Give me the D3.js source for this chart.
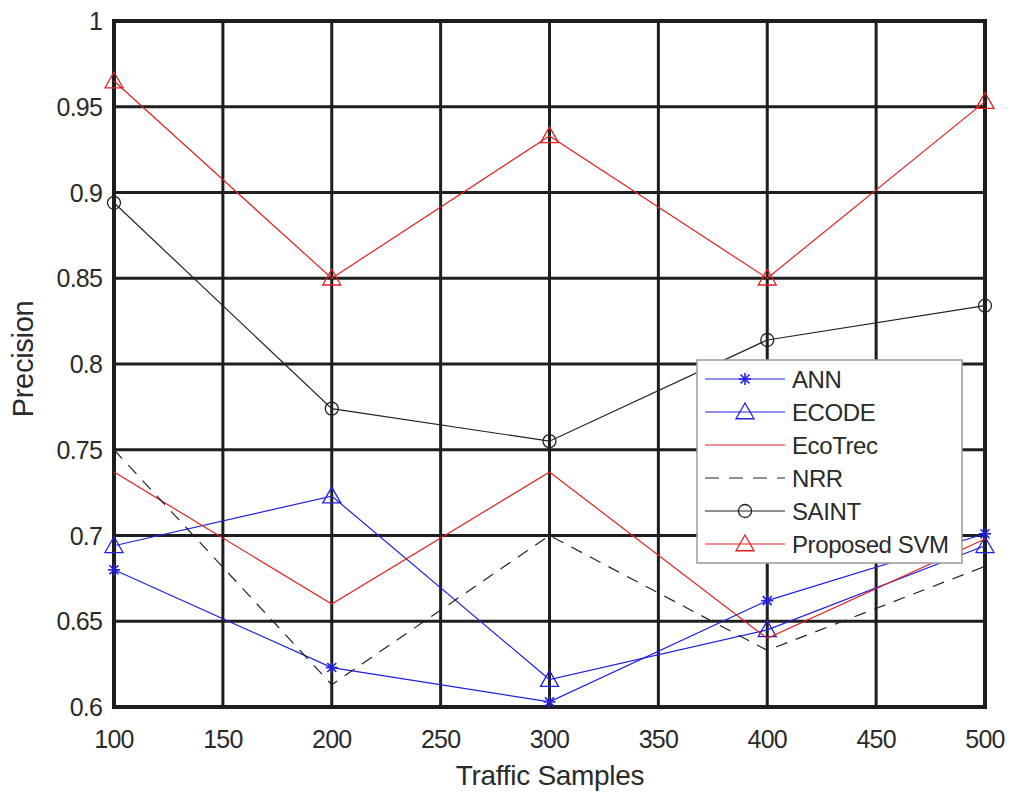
<!DOCTYPE html>
<html>
<head>
<meta charset="utf-8">
<script src="https://cdn.jsdelivr.net/npm/d3@7"></script>
<style>
  html, body { margin: 0; padding: 0; background: #fff; }
  svg text { font-family: "Liberation Sans", Arial, sans-serif; fill: #2a2a2a; }
</style>
</head>
<body>
<div id="chart"></div>
<script>
// ── Data ────────────────────────────────────────────────────────────────
const samples = [100, 200, 300, 400, 500];
const ann = [0.680, 0.623, 0.603, 0.662, 0.701];
const ecode = [0.694, 0.723, 0.616, 0.645, 0.694];
const ecoTrec = [0.737, 0.660, 0.737, 0.640, 0.698];
const nrr = [0.750, 0.613, 0.700, 0.633, 0.682];
const saint = [0.894, 0.774, 0.755, 0.814, 0.834];
const proposedSvm = [0.965, 0.850, 0.933, 0.850, 0.953];

const xTicks = [100, 150, 200, 250, 300, 350, 400, 450, 500];
const yTicks = [0.6, 0.65, 0.7, 0.75, 0.8, 0.85, 0.9, 0.95, 1];

const series = [
  { name: "ANN", values: ann, color: "#2020e0", marker: "star", dash: null },
  { name: "ECODE", values: ecode, color: "#2020e0", marker: "triangle", dash: null },
  { name: "EcoTrec", values: ecoTrec, color: "#e02020", marker: null, dash: null },
  { name: "NRR", values: nrr, color: "#222", marker: null, dash: "12,9" },
  { name: "SAINT", values: saint, color: "#222", marker: "circle", dash: null },
  { name: "Proposed SVM", values: proposedSvm, color: "#e02020", marker: "triangle", dash: null },
];

// ── Dimensions ──────────────────────────────────────────────────────────
const W = 1011, H = 796;
const margin = { top: 21, right: 26, bottom: 88, left: 114 };

const svg = d3.select("#chart").append("svg")
  .attr("width", W).attr("height", H);

const x = d3.scaleLinear().domain([100, 500]).range([margin.left, W - margin.right]);
const y = d3.scaleLinear().domain([0.6, 1]).range([H - margin.bottom - 1, margin.top]);

// ── Grid ────────────────────────────────────────────────────────────────
const grid = svg.append("g").attr("stroke", "#1e1e1e").attr("stroke-width", 3);
grid.selectAll(".vg").data(xTicks).join("line")
  .attr("x1", (d) => x(d)).attr("x2", (d) => x(d))
  .attr("y1", y(1)).attr("y2", y(0.6));
grid.selectAll(".hg").data(yTicks).join("line")
  .attr("x1", x(100)).attr("x2", x(500))
  .attr("y1", (d) => y(d)).attr("y2", (d) => y(d));

// frame
svg.append("rect")
  .attr("x", x(100)).attr("y", y(1))
  .attr("width", x(500) - x(100)).attr("height", y(0.6) - y(1))
  .attr("fill", "none").attr("stroke", "#1e1e1e").attr("stroke-width", 4);

// ── Tick labels ─────────────────────────────────────────────────────────
svg.append("g").selectAll("text").data(xTicks).join("text")
  .attr("x", (d) => x(d)).attr("y", 748)
  .attr("text-anchor", "middle")
  .style("font-size", "25px").style("letter-spacing", "-0.8px")
  .text((d) => d);

svg.append("g").selectAll("text").data(yTicks).join("text")
  .attr("x", 102).attr("y", (d) => y(d))
  .attr("dy", "0.36em")
  .attr("text-anchor", "end")
  .style("font-size", "25px").style("letter-spacing", "-0.8px")
  .text((d) => d3.format("~g")(d));

svg.append("text")
  .attr("x", 550).attr("y", 785)
  .attr("text-anchor", "middle")
  .style("font-size", "28px").style("letter-spacing", "-0.3px")
  .text("Traffic Samples");

svg.append("text")
  .attr("transform", `translate(33, 359) rotate(-90)`)
  .attr("text-anchor", "middle")
  .style("font-size", "29px").style("letter-spacing", "-0.3px")
  .text("Precision");

// ── Markers ─────────────────────────────────────────────────────────────
function drawMarker(g, type, cx, cy, color) {
  if (type === "triangle") {
    const s = 9;
    g.append("path")
      .attr("d", `M${cx},${cy - s} L${cx + s},${cy + s * 0.75} L${cx - s},${cy + s * 0.75} Z`)
      .attr("fill", "none").attr("stroke", color).attr("stroke-width", 1.3);
  } else if (type === "circle") {
    g.append("circle").attr("cx", cx).attr("cy", cy).attr("r", 6.5)
      .attr("fill", "none").attr("stroke", color).attr("stroke-width", 1.3);
  } else if (type === "star") {
    const r = 6;
    const p = [
      [cx - r, cy, cx + r, cy],
      [cx, cy - r, cx, cy + r],
      [cx - r * 0.75, cy - r * 0.75, cx + r * 0.75, cy + r * 0.75],
      [cx - r * 0.75, cy + r * 0.75, cx + r * 0.75, cy - r * 0.75],
    ];
    p.forEach((l) => g.append("line")
      .attr("x1", l[0]).attr("y1", l[1]).attr("x2", l[2]).attr("y2", l[3])
      .attr("stroke", color).attr("stroke-width", 1.6));
  }
}

// ── Lines ───────────────────────────────────────────────────────────────
const line = d3.line().x((d, i) => x(samples[i])).y((d) => y(d));
const plot = svg.append("g");

series.forEach((s) => {
  plot.append("path")
    .datum(s.values)
    .attr("d", line)
    .attr("fill", "none")
    .attr("stroke", s.color)
    .attr("stroke-width", 1.2)
    .attr("stroke-dasharray", s.dash);
  if (s.marker) {
    s.values.forEach((v, i) => drawMarker(plot, s.marker, x(samples[i]), y(v), s.color));
  }
});

// ── Legend ──────────────────────────────────────────────────────────────
const lg = svg.append("g");
lg.append("rect")
  .attr("x", 697).attr("y", 360).attr("width", 265).attr("height", 203)
  .attr("fill", "#fff").attr("stroke", "#9a9a9a").attr("stroke-width", 1.5);

series.forEach((s, i) => {
  const ly = 379 + i * 33;
  lg.append("line")
    .attr("x1", 705).attr("x2", 785).attr("y1", ly).attr("y2", ly)
    .attr("stroke", s.color).attr("stroke-width", 1.2)
    .attr("stroke-dasharray", s.dash ? "14,10" : null);
  if (s.marker) drawMarker(lg, s.marker, 745, ly, s.color);
  lg.append("text")
    .attr("x", 792).attr("y", ly).attr("dy", "0.36em")
    .style("font-size", "24px").style("letter-spacing", "-0.4px")
    .text(s.name);
});
</script>
</body>
</html>
